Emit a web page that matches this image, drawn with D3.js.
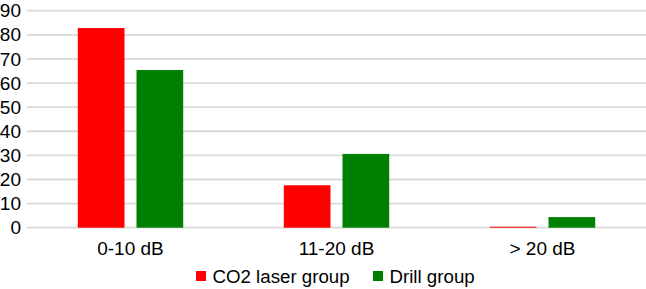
<!DOCTYPE html>
<html><head><meta charset="utf-8">
<script src="https://cdn.jsdelivr.net/npm/d3@7"></script>
<style>body{margin:0;background:#fff}svg{display:block;font-family:"Liberation Sans",Arial,sans-serif}</style>
</head><body><svg id="c" width="646" height="289"></svg>
<script>
const categories = ["0-10 dB", "11-20 dB", "> 20 dB"];
const seriesNames = ["CO2 laser group", "Drill group"];
const co2Values = [82.8, 17.6, 0.4];
const drillValues = [65.4, 30.6, 4.4];
const yTicks = [0, 10, 20, 30, 40, 50, 60, 70, 80, 90];
const colors = ["#ff0000", "#008000"];

const svg = d3.select("#c");
const y = d3.scaleLinear().domain([0, 90]).range([227.7, 10.7]);
const x0 = d3.scaleBand().domain(categories).range([27.5, 645.5]).padding(0);
const groupW = 105.4;
const x1 = d3.scaleBand().domain(seriesNames)
  .range([(x0.bandwidth() - groupW) / 2, (x0.bandwidth() + groupW) / 2])
  .paddingInner(0.2044).paddingOuter(0);

// gridlines
svg.append("g").selectAll("line").data(yTicks).join("line")
  .attr("x1", 27).attr("x2", 646)
  .attr("y1", d => y(d)).attr("y2", d => y(d))
  .attr("stroke", "#d9d9d9").attr("stroke-width", 1.8);

// y tick labels
svg.append("g").selectAll("text").data(yTicks).join("text")
  .attr("x", 21).attr("y", d => y(d)).attr("dy", "0.35em")
  .attr("text-anchor", "end").attr("font-size", 19).attr("fill", "#000")
  .text(d => d);

const data = categories.map((c, i) => ({cat: c, vals: [co2Values[i], drillValues[i]]}));
const g = svg.append("g").selectAll("g").data(data).join("g")
  .attr("transform", d => `translate(${x0(d.cat)},0)`);
g.selectAll("rect").data(d => d.vals.map((v, j) => ({name: seriesNames[j], v, j}))).join("rect")
  .attr("x", d => x1(d.name)).attr("width", x1.bandwidth())
  .attr("y", d => y(d.v)).attr("height", d => y(0) - y(d.v))
  .attr("fill", d => colors[d.j]);

// category labels
svg.append("g").selectAll("text").data(categories).join("text")
  .attr("x", d => x0(d) + x0.bandwidth() / 2).attr("y", 255)
  .attr("text-anchor", "middle").attr("font-size", 19).attr("fill", "#000")
  .text(d => d);

// legend
const legendX = [196, 373];
const lg = svg.append("g").selectAll("g").data(seriesNames).join("g")
  .attr("transform", (d, i) => `translate(${legendX[i]},0)`);
lg.append("rect").attr("x", 0).attr("y", 271).attr("width", 10).attr("height", 10)
  .attr("fill", (d, i) => colors[i]);
lg.append("text").attr("x", 16.5).attr("y", 283).attr("font-size", 18.7).attr("fill", "#000")
  .text(d => d);
</script></body></html>
